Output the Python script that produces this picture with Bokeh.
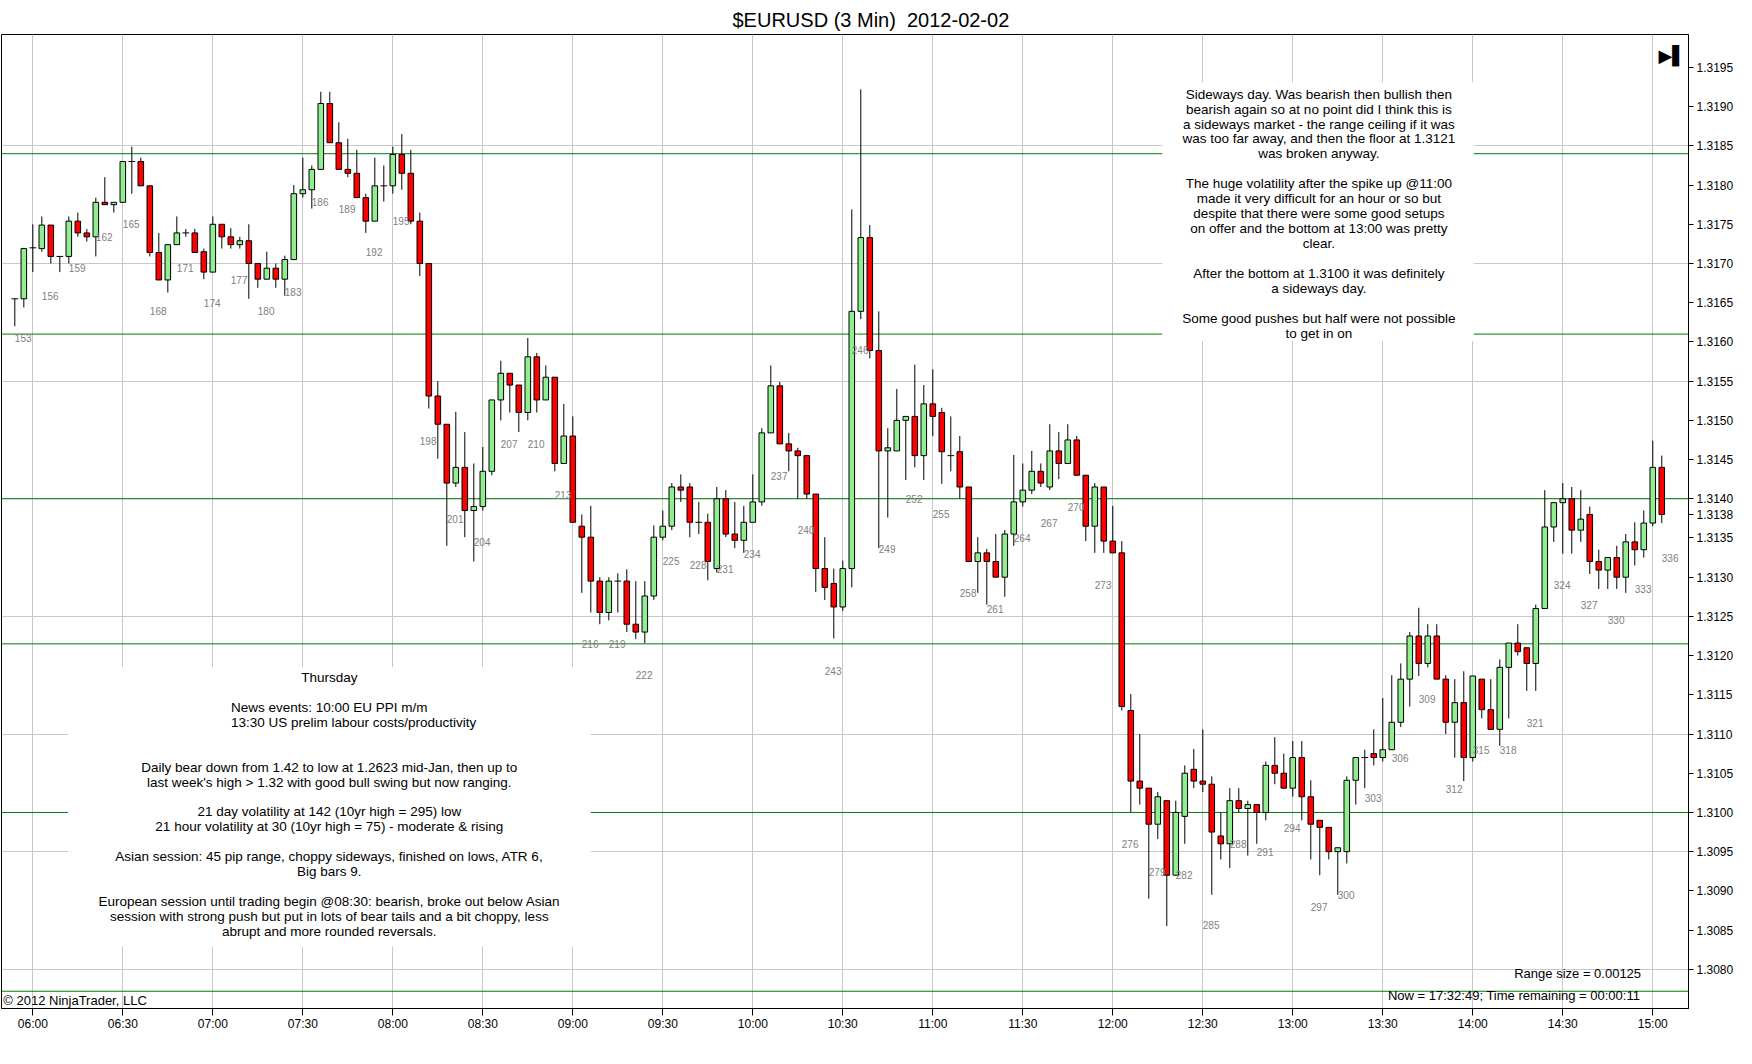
from bokeh.plotting import figure
from bokeh.models import Range1d, FixedTicker, PrintfTickFormatter, Span, Label, ColumnDataSource
from bokeh.embed import file_html
from bokeh.resources import INLINE
from bokeh.core.properties import value

FONT = "Liberation Sans"

# ---------------- data (3-minute EURUSD bars, bar numbers 153..336) ----------------
first_bar = 153
opens = [
    1.31655, 1.31655, 1.31720, 1.31719, 1.31749, 1.31709, 1.31709, 1.31754, 1.31739, 1.31734,  # 153-162
    1.31778, 1.31775, 1.31778, 1.31830, 1.31830, 1.31799, 1.31714, 1.31679, 1.31724, 1.31739,  # 163-172
    1.31739, 1.31715, 1.31689, 1.31750, 1.31734, 1.31724, 1.31729, 1.31700, 1.31680, 1.31694,  # 173-182
    1.31680, 1.31705, 1.31789, 1.31794, 1.31820, 1.31904, 1.31854, 1.31820, 1.31815, 1.31784,  # 183-192
    1.31754, 1.31799, 1.31799, 1.31839, 1.31815, 1.31754, 1.31700, 1.31531, 1.31495, 1.31420,  # 193-202
    1.31440, 1.31385, 1.31390, 1.31435, 1.31526, 1.31560, 1.31545, 1.31510, 1.31581, 1.31526,  # 203-212
    1.31555, 1.31445, 1.31480, 1.31365, 1.31351, 1.31295, 1.31255, 1.31295, 1.31295, 1.31240,  # 213-222
    1.31230, 1.31276, 1.31351, 1.31365, 1.31415, 1.31415, 1.31370, 1.31370, 1.31311, 1.31400,  # 223-232
    1.31355, 1.31347, 1.31370, 1.31396, 1.31484, 1.31544, 1.31470, 1.31461, 1.31455, 1.31406,  # 233-242
    1.31311, 1.31292, 1.31262, 1.31311, 1.31639, 1.31733, 1.31589, 1.31461, 1.31461, 1.31500,  # 243-252
    1.31505, 1.31455, 1.31521, 1.31510, 1.31455, 1.31460, 1.31415, 1.31320, 1.31331, 1.31320,  # 253-262
    1.31300, 1.31355, 1.31396, 1.31411, 1.31435, 1.31415, 1.31461, 1.31445, 1.31475, 1.31430,  # 263-272
    1.31365, 1.31415, 1.31346, 1.31331, 1.31130, 1.31040, 1.31031, 1.30985, 1.31015, 1.30920,  # 273-282
    1.30995, 1.31055, 1.31040, 1.31036, 1.30970, 1.30960, 1.31015, 1.31005, 1.31010, 1.31000,  # 283-292
    1.31060, 1.31050, 1.31031, 1.31070, 1.31020, 1.30990, 1.30981, 1.30950, 1.30950, 1.31041,  # 293-302
    1.31070, 1.31075, 1.31070, 1.31080, 1.31115, 1.31170, 1.31225, 1.31190, 1.31225, 1.31170,  # 303-312
    1.31115, 1.31140, 1.31070, 1.31170, 1.31131, 1.31106, 1.31185, 1.31216, 1.31210, 1.31190,  # 313-322
    1.31260, 1.31364, 1.31395, 1.31400, 1.31360, 1.31380, 1.31320, 1.31309, 1.31325, 1.31300,  # 323-332
    1.31345, 1.31335, 1.31369, 1.31440,                                                        # 333-336
]
highs = [
    1.31655, 1.31720, 1.31750, 1.31760, 1.31749, 1.31709, 1.31760, 1.31765, 1.31744, 1.31784,
    1.31810, 1.31778, 1.31830, 1.31849, 1.31835, 1.31799, 1.31739, 1.31724, 1.31760, 1.31744,
    1.31744, 1.31719, 1.31760, 1.31750, 1.31745, 1.31734, 1.31750, 1.31700, 1.31715, 1.31700,
    1.31710, 1.31800, 1.31835, 1.31825, 1.31919, 1.31919, 1.31880, 1.31859, 1.31845, 1.31789,
    1.31835, 1.31825, 1.31849, 1.31865, 1.31845, 1.31765, 1.31700, 1.31550, 1.31495, 1.31511,
    1.31485, 1.31445, 1.31466, 1.31526, 1.31576, 1.31560, 1.31545, 1.31605, 1.31586, 1.31570,
    1.31555, 1.31521, 1.31505, 1.31380, 1.31391, 1.31300, 1.31300, 1.31305, 1.31310, 1.31295,
    1.31295, 1.31366, 1.31385, 1.31420, 1.31431, 1.31420, 1.31396, 1.31381, 1.31415, 1.31411,
    1.31396, 1.31391, 1.31431, 1.31490, 1.31570, 1.31549, 1.31484, 1.31465, 1.31455, 1.31406,
    1.31351, 1.31311, 1.31321, 1.31769, 1.31922, 1.31749, 1.31639, 1.31490, 1.31540, 1.31505,
    1.31571, 1.31545, 1.31565, 1.31516, 1.31505, 1.31480, 1.31415, 1.31351, 1.31336, 1.31355,
    1.31360, 1.31456, 1.31445, 1.31461, 1.31445, 1.31495, 1.31485, 1.31495, 1.31480, 1.31430,
    1.31420, 1.31415, 1.31391, 1.31346, 1.31151, 1.31100, 1.31031, 1.31026, 1.31015, 1.31015,
    1.31060, 1.31081, 1.31106, 1.31046, 1.31000, 1.31031, 1.31031, 1.31015, 1.31010, 1.31065,
    1.31096, 1.31075, 1.31091, 1.31091, 1.31041, 1.30990, 1.30981, 1.30955, 1.31046, 1.31070,
    1.31080, 1.31106, 1.31146, 1.31175, 1.31190, 1.31230, 1.31261, 1.31240, 1.31240, 1.31175,
    1.31170, 1.31180, 1.31174, 1.31170, 1.31170, 1.31195, 1.31216, 1.31240, 1.31210, 1.31265,
    1.31411, 1.31395, 1.31420, 1.31415, 1.31411, 1.31390, 1.31335, 1.31325, 1.31340, 1.31355,
    1.31370, 1.31385, 1.31474, 1.31455,
]
lows = [
    1.31620, 1.31644, 1.31689, 1.31715, 1.31700, 1.31689, 1.31700, 1.31734, 1.31728, 1.31709,
    1.31775, 1.31765, 1.31778, 1.31789, 1.31799, 1.31709, 1.31679, 1.31663, 1.31724, 1.31734,
    1.31714, 1.31680, 1.31689, 1.31719, 1.31719, 1.31719, 1.31655, 1.31669, 1.31680, 1.31669,
    1.31659, 1.31705, 1.31784, 1.31770, 1.31820, 1.31854, 1.31820, 1.31810, 1.31784, 1.31739,
    1.31754, 1.31779, 1.31789, 1.31794, 1.31750, 1.31684, 1.31515, 1.31451, 1.31340, 1.31415,
    1.31351, 1.31320, 1.31385, 1.31430, 1.31500, 1.31510, 1.31485, 1.31500, 1.31510, 1.31526,
    1.31435, 1.31445, 1.31370, 1.31280, 1.31255, 1.31240, 1.31245, 1.31255, 1.31230, 1.31221,
    1.31216, 1.31271, 1.31347, 1.31360, 1.31396, 1.31351, 1.31355, 1.31296, 1.31306, 1.31351,
    1.31337, 1.31331, 1.31370, 1.31391, 1.31484, 1.31470, 1.31435, 1.31400, 1.31400, 1.31281,
    1.31271, 1.31222, 1.31257, 1.31287, 1.31629, 1.31579, 1.31337, 1.31376, 1.31461, 1.31424,
    1.31440, 1.31424, 1.31480, 1.31419, 1.31435, 1.31400, 1.31320, 1.31280, 1.31265, 1.31300,
    1.31275, 1.31340, 1.31390, 1.31406, 1.31415, 1.31411, 1.31425, 1.31445, 1.31430, 1.31346,
    1.31331, 1.31331, 1.31331, 1.31130, 1.31000, 1.31010, 1.30890, 1.30966, 1.30855, 1.30920,
    1.30960, 1.31031, 1.31026, 1.30895, 1.30940, 1.30929, 1.31000, 1.30945, 1.30960, 1.30990,
    1.31036, 1.31031, 1.31020, 1.30990, 1.30940, 1.30920, 1.30940, 1.30895, 1.30935, 1.31010,
    1.31031, 1.31060, 1.31065, 1.31080, 1.31109, 1.31135, 1.31174, 1.31185, 1.31170, 1.31100,
    1.31070, 1.31040, 1.31065, 1.31120, 1.31106, 1.31085, 1.31120, 1.31200, 1.31155, 1.31155,
    1.31260, 1.31345, 1.31330, 1.31330, 1.31345, 1.31304, 1.31285, 1.31285, 1.31285, 1.31280,
    1.31315, 1.31325, 1.31365, 1.31369,
]
closes = [
    1.31655, 1.31719, 1.31720, 1.31749, 1.31709, 1.31709, 1.31754, 1.31739, 1.31734, 1.31778,
    1.31775, 1.31778, 1.31830, 1.31830, 1.31799, 1.31714, 1.31679, 1.31724, 1.31739, 1.31739,
    1.31714, 1.31689, 1.31750, 1.31734, 1.31724, 1.31729, 1.31700, 1.31680, 1.31694, 1.31680,
    1.31705, 1.31789, 1.31794, 1.31820, 1.31904, 1.31854, 1.31820, 1.31815, 1.31784, 1.31754,
    1.31799, 1.31799, 1.31839, 1.31815, 1.31754, 1.31700, 1.31531, 1.31495, 1.31420, 1.31440,
    1.31385, 1.31390, 1.31435, 1.31526, 1.31560, 1.31545, 1.31510, 1.31581, 1.31526, 1.31555,
    1.31445, 1.31480, 1.31370, 1.31351, 1.31295, 1.31255, 1.31295, 1.31295, 1.31240, 1.31230,
    1.31276, 1.31351, 1.31365, 1.31415, 1.31411, 1.31370, 1.31370, 1.31320, 1.31400, 1.31355,
    1.31347, 1.31370, 1.31396, 1.31484, 1.31544, 1.31470, 1.31461, 1.31455, 1.31406, 1.31311,
    1.31287, 1.31262, 1.31311, 1.31639, 1.31733, 1.31589, 1.31461, 1.31465, 1.31500, 1.31505,
    1.31455, 1.31521, 1.31505, 1.31460, 1.31455, 1.31415, 1.31320, 1.31331, 1.31320, 1.31300,
    1.31355, 1.31396, 1.31411, 1.31435, 1.31420, 1.31461, 1.31445, 1.31475, 1.31430, 1.31365,
    1.31415, 1.31346, 1.31331, 1.31135, 1.31040, 1.31031, 1.30985, 1.31020, 1.30920, 1.31000,
    1.31050, 1.31040, 1.31036, 1.30975, 1.30960, 1.31015, 1.31005, 1.31010, 1.31000, 1.31060,
    1.31050, 1.31031, 1.31070, 1.31020, 1.30985, 1.30981, 1.30950, 1.30955, 1.31041, 1.31070,
    1.31070, 1.31070, 1.31080, 1.31115, 1.31170, 1.31225, 1.31190, 1.31225, 1.31170, 1.31115,
    1.31140, 1.31070, 1.31174, 1.31131, 1.31106, 1.31185, 1.31216, 1.31205, 1.31190, 1.31260,
    1.31364, 1.31395, 1.31400, 1.31360, 1.31374, 1.31320, 1.31309, 1.31325, 1.31300, 1.31345,
    1.31335, 1.31369, 1.31440, 1.31380,
]
bars = list(range(first_bar, first_bar + len(opens)))

# bar-counter labels (every third bar) and the price level where each is printed
label_bars = [153, 156, 159, 162, 165, 168, 171, 174, 177, 180,
              183, 186, 189, 192, 195, 198, 201, 204, 207, 210,
              213, 216, 219, 222, 225, 228, 231, 234, 237, 240,
              243, 246, 249, 252, 255, 258, 261, 264, 267, 270,
              273, 276, 279, 282, 285, 288, 291, 294, 297, 300,
              303, 306, 309, 312, 315, 318, 321, 324, 327, 330,
              333, 336]
label_prices = [1.31605, 1.31658, 1.31694, 1.31734, 1.31750, 1.31639, 1.31694, 1.31650, 1.31679, 1.31640,
                1.31664, 1.31778, 1.31769, 1.31715, 1.31754, 1.31474, 1.31374, 1.31345, 1.31470, 1.31470,
                1.31405, 1.31215, 1.31215, 1.31175, 1.31320, 1.31315, 1.31310, 1.31330, 1.31429, 1.31360,
                1.31180, 1.31590, 1.31336, 1.31400, 1.31380, 1.31280, 1.31260, 1.31350, 1.31369, 1.31389,
                1.31290, 1.30960, 1.30924, 1.30920, 1.30856, 1.30960, 1.30949, 1.30980, 1.30880, 1.30895,
                1.31019, 1.31070, 1.31145, 1.31030, 1.31080, 1.31080, 1.31114, 1.31290, 1.31265, 1.31246,
                1.31285, 1.31325]

time_labels = ["06:00", "06:30", "07:00", "07:30", "08:00", "08:30", "09:00", "09:30", "10:00",
               "10:30", "11:00", "11:30", "12:00", "12:30", "13:00", "13:30", "14:00", "14:30", "15:00"]
time_bars = [155, 165, 175, 185, 195, 205, 215, 225, 235, 245,
             255, 265, 275, 285, 295, 305, 315, 325, 335]

price_ticks = [1.3080, 1.3085, 1.3090, 1.3095, 1.3100, 1.3105, 1.3110, 1.3115, 1.3120, 1.3125,
               1.3130, 1.3135, 1.3140, 1.3145, 1.3150, 1.3155, 1.3160, 1.3165, 1.3170, 1.3175,
               1.3180, 1.3185, 1.3190, 1.3195]
grid_prices = [1.3080, 1.3095, 1.3110, 1.3125, 1.3140, 1.3155, 1.3170, 1.3185]
levels = [1.31840, 1.31610, 1.31400, 1.31215, 1.31000, 1.30772]
last_price = 1.3138

TOP_NOTE = ("Sideways day. Was bearish then bullish then\n"
            "bearish again so at no point did I think this is\n"
            "a sideways market - the range ceiling if it was\n"
            "was too far away, and then the floor at 1.3121\n"
            "was broken anyway.\n"
            "\n"
            "The huge volatility after the spike up @11:00\n"
            "made it very difficult for an hour or so but\n"
            "despite that there were some good setups\n"
            "on offer and the bottom at 13:00 was pretty\n"
            "clear.\n"
            "\n"
            "After the bottom at 1.3100 it was definitely\n"
            "a sideways day.\n"
            "\n"
            "Some good pushes but half were not possible\n"
            "to get in on")

NBSP = "\u00a0"
BOTTOM_NOTE = ("Thursday\n"
               "\n"
               "News events: 10:00 EU PPI m/m\n"
               + NBSP * 13 + "13:30 US prelim labour costs/productivity\n"
               "\n"
               "\n"
               "Daily bear down from 1.42 to low at 1.2623 mid-Jan, then up to\n"
               "last week's high > 1.32 with good bull swing but now ranging.\n"
               "\n"
               "21 day volatility at 142 (10yr high = 295) low\n"
               "21 hour volatility at 30 (10yr high = 75) - moderate & rising\n"
               "\n"
               "Asian session: 45 pip range, choppy sideways, finished on lows, ATR 6,\n"
               "Big bars 9.\n"
               "\n"
               "European session until trading begin @08:30: bearish, broke out below Asian\n"
               "session with strong push but put in lots of bear tails and a bit choppy, less\n"
               "abrupt and more rounded reversals.")

# ---------------- figure ----------------
p = figure(width=1736, height=1048, output_backend="svg", toolbar_location=None,
           x_range=Range1d(151.52, 338.97), y_range=Range1d(1.30750, 1.31992),
           y_axis_location="right", title="$EURUSD (3 Min)\u00a0 2012-02-02",
           min_border_left=1, min_border_right=48, min_border_top=34, min_border_bottom=40)
p.background_fill_color = "white"
p.border_fill_color = "white"
p.outline_line_color = "black"
p.outline_line_width = 1

p.title.align = "left"
p.title.offset = 731
p.title.text_font = FONT
p.title.text_font_size = "20px"
p.title.text_font_style = "normal"
p.title.text_color = "black"
p.title.standoff = 7

# x axis (time labels at bar positions)
p.xaxis.ticker = FixedTicker(ticks=time_bars)
p.xaxis.major_label_overrides = {b: t for b, t in zip(time_bars, time_labels)}
p.xaxis.minor_tick_line_color = None
p.xaxis.major_tick_in = 0
p.xaxis.major_tick_out = 7
p.xaxis.major_label_standoff = 1
p.xaxis.axis_line_color = "black"
p.xaxis.major_tick_line_color = "black"
p.xaxis.major_label_text_font = FONT
p.xaxis.major_label_text_font_size = "12px"
p.xaxis.major_label_text_color = "black"

# price axis on the right (last traded price is marked on the axis as well)
p.yaxis.ticker = FixedTicker(ticks=price_ticks + [last_price])
p.yaxis.formatter = PrintfTickFormatter(format="%.4f")
p.yaxis.minor_tick_line_color = None
p.yaxis.major_tick_in = 0
p.yaxis.major_tick_out = 5
p.yaxis.major_label_standoff = 3
p.yaxis.axis_line_color = "black"
p.yaxis.major_tick_line_color = "black"
p.yaxis.major_label_text_font = FONT
p.yaxis.major_label_text_font_size = "12px"
p.yaxis.major_label_text_color = "black"

p.xgrid.ticker = FixedTicker(ticks=time_bars)
p.ygrid.ticker = FixedTicker(ticks=grid_prices)
p.xgrid.grid_line_color = "#c8c8c8"
p.ygrid.grid_line_color = "#c8c8c8"

# horizontal green levels
for lv in levels:
    p.add_layout(Span(location=lv, dimension="width", line_color="#007a00",
                      line_width=1, level="underlay"))

# white note boxes
p.quad(left=[280.5], right=[315.1], top=[1.31931], bottom=[1.31601],
       fill_color="white", line_color=None)
p.quad(left=[158.9], right=[217.0], top=[1.31185], bottom=[1.30829],
       fill_color="white", line_color=None)

# candles
up = dict(x=[], top=[], bottom=[])
dn = dict(x=[], top=[], bottom=[])
dj = dict(x0=[], x1=[], y=[])
for b, o, c in zip(bars, opens, closes):
    if c > o:
        up["x"].append(b); up["top"].append(c); up["bottom"].append(o)
    elif c < o:
        dn["x"].append(b); dn["top"].append(o); dn["bottom"].append(c)
    else:
        dj["x0"].append(b - 0.37); dj["x1"].append(b + 0.37); dj["y"].append(c)

wick_src = ColumnDataSource(dict(x=bars, high=highs, low=lows))
p.segment(x0="x", y0="low", x1="x", y1="high", source=wick_src, line_color="black", line_width=1)
p.vbar(x="x", width=0.62, top="top", bottom="bottom", source=ColumnDataSource(up),
       fill_color="#90ee90", line_color="black", line_width=1)
p.vbar(x="x", width=0.62, top="top", bottom="bottom", source=ColumnDataSource(dn),
       fill_color="#ff0000", line_color="black", line_width=1)
p.segment(x0="x0", y0="y", x1="x1", y1="y", source=ColumnDataSource(dj),
          line_color="black", line_width=1)

# bar counter labels
p.text(x=label_bars, y=label_prices, text=[str(b) for b in label_bars],
       text_font=value(FONT), text_font_size="10px", text_color="#808080",
       text_align="left", text_baseline="middle")

# notes
p.text(x=[297.9], y=[1.319254], text=[TOP_NOTE], text_font=value(FONT), text_font_size="13.5px",
       text_color="black", text_align="center", text_baseline="top", text_line_height=0.995)
p.text(x=[187.94], y=[1.311815], text=[BOTTOM_NOTE], text_font=value(FONT), text_font_size="13.5px",
       text_color="black", text_align="center", text_baseline="top", text_line_height=0.995)

# footer texts inside the panel
p.text(x=[151.72], y=[1.30760], text=["\u00a9 2012 NinjaTrader, LLC"], text_font=value(FONT),
       text_font_size="13px", text_color="black", text_align="left", text_baseline="middle")
p.text(x=[333.7], y=[1.30794], text=["Range size = 0.00125"], text_font=value(FONT),
       text_font_size="13px", text_color="black", text_align="right", text_baseline="middle")
p.text(x=[333.6], y=[1.30767], text=["Now = 17:32:49; Time remaining = 00:00:11"], text_font=value(FONT),
       text_font_size="13px", text_color="black", text_align="right", text_baseline="middle")

# scroll-to-end icon in the top right corner of the panel
p.add_layout(Label(x=1657, y=953.5, x_units="screen", y_units="screen", text="\u25b6\u258c",
                   text_font="DejaVu Sans", text_font_size="18px", text_color="black",
                   text_baseline="middle"))

open("out.html", "w").write(file_html(p, INLINE))
